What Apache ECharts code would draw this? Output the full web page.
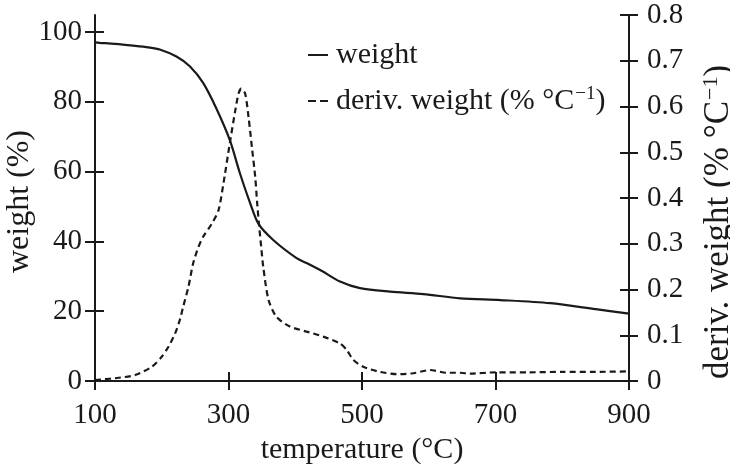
<!DOCTYPE html>
<html>
<head>
<meta charset="utf-8">
<script src="https://cdn.jsdelivr.net/npm/echarts@6/dist/echarts.min.js"></script>
<style>
html,body{margin:0;padding:0;background:#fff;}
#chart{width:730px;height:465px;}
</style>
</head>
<body>
<div id="chart"></div>
<script>
// ---- data ----
var xTicks = [100, 300, 500, 700, 900];
var leftTicks = [0, 20, 40, 60, 80, 100];
var rightTicks = [0, 0.1, 0.2, 0.3, 0.4, 0.5, 0.6, 0.7, 0.8];

var weightT = [100,107,130,157,180,197,222,242,262,282,302,317,332,345,367,402,417,440,467,497,542,592,647,707,782,850,900];
var weightV = [97.0,96.9,96.6,96.1,95.6,95.0,93.0,90.2,85.4,78.0,69.0,59.6,51.2,45.0,40.4,35.2,33.8,31.5,28.5,26.6,25.6,24.9,23.7,23.2,22.3,20.6,19.3];

var derivT = [100,115,130,160,185,200,210,220,227,232,240,247,255,262,275,285,292,302,310,315,319,325,330,335,340,343,346,349,352,360,372,392,417,442,467,477,487,502,527,552,577,602,627,647,662,700,750,800,850,900];
var derivV = [0.002,0.004,0.006,0.013,0.031,0.053,0.075,0.104,0.133,0.162,0.206,0.257,0.293,0.315,0.344,0.373,0.428,0.52,0.59,0.628,0.639,0.628,0.577,0.512,0.446,0.388,0.337,0.293,0.25,0.177,0.14,0.119,0.108,0.097,0.082,0.068,0.046,0.031,0.020,0.015,0.017,0.024,0.018,0.018,0.016,0.019,0.019,0.020,0.020,0.021];

var seriesNames = ['weight', 'deriv. weight'];

// ---- chart ----
var FONT = '"Liberation Serif","Times New Roman",serif';
var INK = '#1a1a1a';
var FS = 29;
function richFor(size) {
  return {
    n: {fontFamily: FONT, fontSize: size, color: INK, lineHeight: size + 2},
    s: {fontFamily: FONT, fontSize: Math.round(size * 0.62), color: INK, verticalAlign: 'top',
        padding: [0, 0, Math.round(size * 0.42), 1]}
  };
}
function pairs(xs, ys) { return xs.map(function (x, i) { return [x, ys[i]]; }); }
var axisLine = {show: true, lineStyle: {color: INK, width: 2}};
var tickStyle = {color: INK, width: 2};
var noSplit = {show: false};

var chart = echarts.init(document.getElementById('chart'), null, {renderer: 'canvas'});
chart.setOption({
  backgroundColor: '#fff',
  animation: false,
  grid: [
    {left: 95, right: 101, top: 32, bottom: 84, containLabel: false, outerBoundsMode: 'none'},
    {left: 95, right: 101, top: 15, bottom: 84, containLabel: false, outerBoundsMode: 'none'}
  ],
  legend: {
    orient: 'vertical', left: 303, top: 35,
    itemWidth: 20, itemHeight: 2, itemGap: 15,
    data: [
      {name: seriesNames[0], icon: 'path://M0,0h20v2h-20z'},
      {name: seriesNames[1], icon: 'path://M0,0h8v2h-8zM12,0h8v2h-8z'}
    ],
    formatter: function (name) {
      return name === 'weight' ? '{n|weight}' : '{n|deriv. weight (% °C}{s|−1}{n|)}';
    },
    textStyle: {fontFamily: FONT, fontSize: 30, color: INK, padding: [0, 0, 0, 3], rich: richFor(30)}
  },
  xAxis: [
    {gridIndex: 0, type: 'value', min: 100, max: 900, interval: 200, position: 'bottom',
     axisLine: axisLine, splitLine: noSplit,
     axisTick: {show: true, inside: false, length: 9, lineStyle: tickStyle},
     axisLabel: {fontFamily: FONT, fontSize: FS, color: INK, margin: 20},
     name: 'temperature (°C)', nameLocation: 'middle', nameGap: 50,
     nameTextStyle: {fontFamily: FONT, fontSize: 30, color: INK}},
    {gridIndex: 0, type: 'value', min: 100, max: 900, interval: 200, position: 'bottom',
     axisLine: {show: false}, splitLine: noSplit, axisLabel: {show: false},
     axisTick: {show: true, inside: true, length: 9, lineStyle: tickStyle}},
    {gridIndex: 1, type: 'value', min: 100, max: 900, interval: 200, position: 'top',
     axisLine: axisLine, splitLine: noSplit, axisLabel: {show: false}, axisTick: {show: false}}
  ],
  yAxis: [
    {gridIndex: 0, type: 'value', min: 0, max: 100, interval: 20, position: 'left',
     axisLine: axisLine, splitLine: noSplit,
     axisTick: {show: true, inside: false, length: 10, lineStyle: tickStyle},
     axisLabel: {fontFamily: FONT, fontSize: FS, color: INK, margin: 13},
     name: 'weight (%)', nameLocation: 'middle', nameGap: 59, nameMoveOverlap: false,
     nameTextStyle: {fontFamily: FONT, fontSize: 32, color: INK, padding: [0, 0, 0, 10]}},
    {gridIndex: 0, type: 'value', min: 0, max: 100, interval: 20, position: 'left',
     axisLine: {show: false}, splitLine: noSplit, axisLabel: {show: false},
     axisTick: {show: true, inside: true, length: 9, lineStyle: tickStyle}},
    {gridIndex: 1, type: 'value', min: 0, max: 0.8, interval: 0.1, position: 'right',
     axisLine: axisLine, splitLine: noSplit,
     axisTick: {show: true, inside: false, length: 9, lineStyle: tickStyle},
     axisLabel: {fontFamily: FONT, fontSize: FS, color: INK, margin: 18,
                 formatter: function (v) { return v === 0 ? '0' : v.toFixed(1); }},
     name: '{n|deriv. weight (% °C}{s|−1}{n|)}', nameLocation: 'middle', nameGap: 71,
     nameTextStyle: {fontFamily: FONT, fontSize: 35, color: INK, rich: richFor(35), padding: [0, 48, 0, 0]}},
    {gridIndex: 1, type: 'value', min: 0, max: 0.8, interval: 0.1, position: 'right',
     axisLine: {show: false}, splitLine: noSplit, axisLabel: {show: false},
     axisTick: {show: true, inside: true, length: 9, lineStyle: tickStyle}},
    {gridIndex: 1, type: 'value', min: 0, max: 0.8, position: 'left',
     axisLine: axisLine, splitLine: noSplit, axisLabel: {show: false}, axisTick: {show: false}}
  ],
  series: [
    {name: seriesNames[0], type: 'line', xAxisIndex: 0, yAxisIndex: 0,
     data: pairs(weightT, weightV), symbol: 'none', smooth: 0.3,
     lineStyle: {color: INK, width: 2.2, type: 'solid'}, itemStyle: {color: INK}},
    {name: seriesNames[1], type: 'line', xAxisIndex: 2, yAxisIndex: 2,
     data: pairs(derivT, derivV), symbol: 'none', smooth: 0.25,
     lineStyle: {color: INK, width: 2.2, type: [6, 4]}, itemStyle: {color: INK}}
  ]
});
</script>
</body>
</html>
